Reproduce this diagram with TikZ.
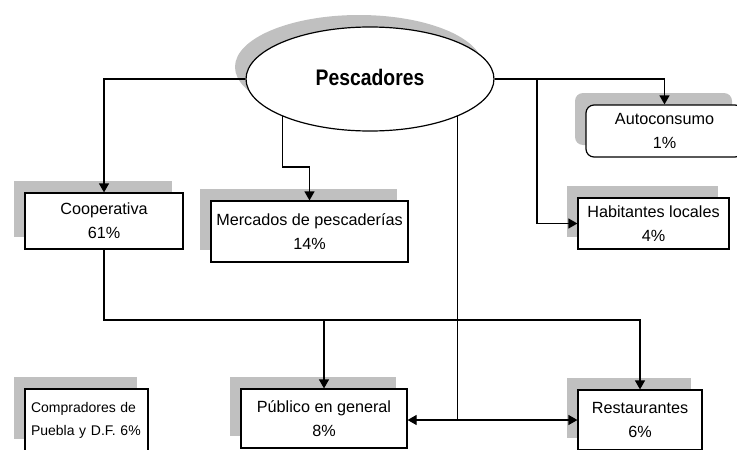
\documentclass[tikz,border=0pt]{standalone}
\usepackage{fontspec}
\setmainfont{Liberation Sans}
\newfontfamily\pescfont[FakeStretch=0.86]{Liberation Sans}
\usetikzlibrary{arrows.meta,shapes.geometric,shadows,calc}
\definecolor{shgray}{HTML}{C0C0C0}
\begin{document}
\begin{tikzpicture}[x=1pt,y=-1pt,
  conn/.style={line width=1.2pt, draw=black},
  arr/.style={conn, -{Triangle[length=9pt,width=10pt]}},
  shad/.style={drop shadow={shadow xshift=-11pt, shadow yshift=12pt, fill=shgray, opacity=1}},
  box/.style={draw=black, line width=1.2pt, fill=white, inner sep=0pt, align=center,
    font=\fontsize{16.2}{24}\selectfont, shad},
]
\useasboundingbox (0,0) rectangle (737,450);
\clip (0,0) rectangle (737,450);

\node[ellipse, draw=black, line width=1.2pt, fill=white, minimum width=248pt, minimum height=104pt,
  inner sep=0pt, shad] (ell) at (370,79) {\raisebox{3pt}{\pescfont\bfseries\fontsize{22.5}{26}\selectfont Pescadores}};

\node[box, minimum width=158pt, minimum height=56pt] (coop) at (104,221) {Cooperativa\\61\%};
\node[box, minimum width=197pt, minimum height=61pt] (merc) at (309.5,231.5) {Mercados de pescaderías\\14\%};
\node[box, rounded corners=8pt, minimum width=157pt, minimum height=52pt] (auto) at (664.5,131) {Autoconsumo\\1\%};
\node[box, minimum width=151pt, minimum height=51pt] (hab) at (653.5,223.5) {Habitantes locales\\4\%};
\node[box, minimum width=123pt, minimum height=62pt, align=left, text width=111pt,
  font=\fontsize{14}{23}\selectfont] (comp) at (86.5,420) {Compradores de\\Puebla y D.F. 6\%};
\node[box, minimum width=166pt, minimum height=59pt] (pub) at (324,418.5) {Público en general\\8\%};
\node[box, minimum width=124pt, minimum height=60pt] (rest) at (640,420) {Restaurantes\\6\%};

\coordinate (mk) at (0,167);
\coordinate (hk) at (537,79);
\coordinate (jp) at (324,320);
\coordinate (jb) at (458,420);

\draw[arr] (ell.west) -| (coop.north);
\draw[arr] (ell.203) -- (ell.203 |- mk) -| (merc.north);
\draw[arr] (ell.east) -| (auto.north);
\draw[arr] (hk) |- (hab.west);
\draw[arr] (coop.south) |- (jp) -| (rest.north);
\draw[conn, line width=2.2pt] (coop.south |- jp) -- (jp);
\draw[arr] (jp) -- (pub.north);
\draw[arr] (ell.337) |- (pub.east |- jb);
\draw[arr] (jb) -- (rest.west |- jb);
\end{tikzpicture}
\end{document}
